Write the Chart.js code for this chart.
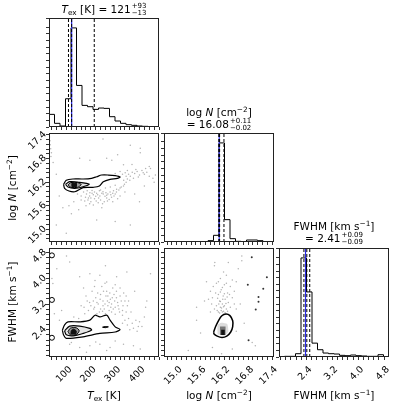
<!DOCTYPE html>
<html lang="en">
  <head>
    <meta charset="utf-8" />
    <title>Corner plot</title>
    <style>
      body { margin: 0; background: #fff; width: 399px; height: 407px; position: relative; overflow: hidden;
             font-family: "DejaVu Sans", sans-serif; color: #000; }
      canvas { position: absolute; left: 0; top: 0; }
      .lbl { position: absolute; font-size: 10.5px; white-space: nowrap; line-height: 1;
             transform: translate(-50%, -50%); }
      .rot { transform: translate(-50%, -50%) rotate(-90deg); }
      sub, sup { font-size: 0.7em; line-height: 0; }
      sup { vertical-align: 0.5em; }
      sub { vertical-align: -0.3em; }
      .ss { display: inline-flex; flex-direction: column; font-size: 7px; line-height: 7px;
            vertical-align: middle; margin-left: 1px; }
    </style>
  </head>
  <body>
    <canvas id="hTex" width="399" height="407"></canvas>
    <canvas id="sTexN" width="399" height="407"></canvas>
    <canvas id="hN" width="399" height="407"></canvas>
    <canvas id="sTexF" width="399" height="407"></canvas>
    <canvas id="sNF" width="399" height="407"></canvas>
    <canvas id="hF" width="399" height="407"></canvas>

    <!-- titles and axis labels -->
    <div class="lbl" style="left:104px;top:10px"><i>T</i><sub>ex</sub> [K] = 121<span class="ss"><span>+93</span><span>−13</span></span></div>
    <div class="lbl" style="left:219px;top:112px">log <i>N</i> [cm<sup>−2</sup>]</div>
    <div class="lbl" style="left:219px;top:125px">= 16.08<span class="ss"><span>+0.11</span><span>−0.02</span></span></div>
    <div class="lbl" style="left:334px;top:226px">FWHM [km s<sup>−1</sup>]</div>
    <div class="lbl" style="left:334px;top:239px">= 2.41<span class="ss"><span>+0.09</span><span>−0.09</span></span></div>

    <div class="lbl" style="left:104px;top:395px"><i>T</i><sub>ex</sub> [K]</div>
    <div class="lbl" style="left:219px;top:395px">log <i>N</i> [cm<sup>−2</sup>]</div>
    <div class="lbl" style="left:334px;top:395px">FWHM [km s<sup>−1</sup>]</div>
    <div class="lbl rot" style="left:12px;top:188px">log <i>N</i> [cm<sup>−2</sup>]</div>
    <div class="lbl rot" style="left:12px;top:302px">FWHM [km s<sup>−1</sup>]</div>

    <script src="https://cdn.jsdelivr.net/npm/chart.js@4.4.0/dist/chart.umd.min.js"></script>
    <script>
      // parameter ranges (axis limits, also the histogram range)
      const TEX_RANGE = [28, 480];
      const LOGN_RANGE = [14.68, 17.45];
      const FWHM_RANGE = [1.55, 4.95];

      // labelled ticks and the minor tick spacing
      const TEX_TICKS = [100, 200, 300, 400];
      const LOGN_TICKS = [15.0, 15.6, 16.2, 16.8, 17.4];
      const FWHM_TICKS = [2.4, 3.2, 4.0, 4.8];
      const MINOR_STEP = { tex: 20, logn: 0.12, fwhm: 0.16 };

      // 20-bin histograms
      const TEX_HIST = [38, 11, 3, 85, 298, 125, 65, 61, 53, 57, 56, 31, 18, 11, 7, 5, 3, 2, 1, 1];
      const LOGN_HIST = [0, 0, 0, 0, 0, 0, 0, 1, 4, 20, 297, 67, 10, 2, 1, 6, 6, 4, 1, 0];
      const FWHM_HIST = [0, 2, 2, 10, 300, 197, 42, 22, 12, 10, 9, 5, 4, 6, 4, 3, 2, 2, 7, 1];

      // 16/50/84 % quantiles and truth values
      const TEX_QUANT = [108, 121, 214];
      const LOGN_QUANT = [16.06, 16.08, 16.19];
      const FWHM_QUANT = [2.32, 2.41, 2.5];
      const TRUTHS = [121, 16.07, 2.37];

      // samples outside the contours: Tex vs logN
      const TN_PTS = [
        [30,17.35],[32,17.25],[33,17.15],[35,17.05],[38,16.95],[36,16.85],[45,16.7],[58,16.4],
        [154,16.81],[196,16.76],[265,16.81],[286,16.76],[362,17.14],[403,17.06],[403,16.95],[250,17.3],[310,16.9],[440,16.6],
        [334,16.64],[369,16.65],[445,16.55],[320,16.47],[341,16.44],[390,16.47],[420,16.4],[465,16.38],[362,16.35],
        [380,16.42],[400,16.38],[350,16.5],[430,16.45],[375,16.3],[300,16.42],[455,16.3],[335,16.25],[355,16.4],[410,16.5],
        [385,16.52],[395,16.33],[415,16.44],[440,16.35],[425,16.55],[345,16.35],[330,16.4],[370,16.45],
        [170,15.95],[182,15.9],[196,15.93],[210,15.88],[224,15.92],[237,15.85],[251,15.9],[265,15.87],[279,15.95],
        [293,15.98],[306,16.02],[320,16.05],[334,16.1],[190,15.8],[215,15.78],[240,15.75],[265,15.8],[285,15.82],
        [200,15.7],[230,15.68],[255,15.7],[175,15.72],[160,15.85],[210,15.62],[180,15.6],[300,15.9],[310,15.78],
        [145,15.9],[130,15.7],[245,15.55],[150,15.5],[220,15.84],[250,15.96],[275,15.76],[205,15.99],
        [185,15.98],[195,15.85],[205,15.92],[215,15.95],[228,15.88],[232,15.8],[245,15.92],[258,15.84],[262,15.93],
        [270,15.9],[282,15.88],[290,15.92],[295,15.85],[305,15.95],[315,16.0],[325,16.08],[338,16.15],[345,16.2],
        [350,16.28],[360,16.25],[178,15.82],[188,15.75],[222,15.72],[248,15.65],[268,15.72],[290,15.7],[320,15.85],
        [235,15.98],[200,15.8],[160,15.75],[240,16.0],[260,16.05],[280,16.08],[300,16.12],[195,15.65],[340,15.95],
        [224,15.24],[58,15.11],[362,15.11],[99,14.9],[120,15.4],[85,15.55],[300,15.2],[400,15.7],[380,15.9],
        [420,16.1],[460,16.2],[70,15.85],[110,15.6]
      ];
      // Tex vs FWHM
      const TF_PTS = [
        [113,4.51],[154,4.05],[196,4.15],[217,3.94],[237,4.1],[265,3.89],[306,4.05],[348,4.2],[445,4.15],[44,3.84],
        [100,4.7],[260,4.4],[380,3.6],[170,3.7],
        [205,3.6],[220,3.4],[230,3.2],[240,3.5],[250,3.3],[255,3.05],[265,3.6],[270,3.15],[280,3.35],[285,2.95],
        [295,3.5],[300,3.1],[310,3.25],[320,3.45],[330,3.0],[340,3.3],[260,2.9],[235,2.95],[215,3.1],[195,3.25],
        [180,3.45],[245,3.75],[290,3.7],[320,3.7],[350,3.15],[365,2.95],[225,2.9],[275,3.0],[300,2.88],[190,3.0],
        [210,3.3],[250,3.15],[285,3.2],[315,3.05],[240,3.05],[270,3.45],[335,3.55],[175,2.9],[160,3.15],
        [200,3.15],[212,3.05],[225,3.25],[238,3.35],[248,2.98],[258,3.2],[262,3.45],[268,3.3],[275,3.25],[282,3.1],
        [288,3.4],[292,3.05],[298,3.3],[305,3.4],[312,3.15],[318,2.95],[325,3.3],[332,3.15],[345,3.45],[355,3.3],
        [228,3.55],[252,3.6],[278,3.55],[305,3.6],[215,3.75],[258,3.85],[300,3.8],[185,3.3],[172,3.1],[330,2.85],
        [345,2.95],[355,2.75],[370,2.6],[385,2.7],[395,2.5],[330,2.6],
        [350,2.55],[375,2.45],[390,2.35],[410,2.5],[420,2.8],[425,3.1],[430,3.3],[400,2.65],[340,2.7],[360,2.4],
        [113,1.95],[154,1.85],[196,1.9],[237,1.95],[279,1.85],[334,1.95],[375,1.9],[403,1.8],[182,1.7],[265,1.75],
        [120,2.0],[300,2.05],[220,2.02],
        [71,2.7],[50,2.9],[40,4.0],[60,4.3],[80,3.0],[130,2.8],[150,2.75]
      ];
      // logN vs FWHM
      const NF_PTS = [
        [16.05,2.95],[16.12,3.0],[16.18,2.98],[16.25,3.05],[16.1,3.1],[16.15,3.2],[16.2,3.15],[16.08,3.3],[16.22,3.35],
        [16.3,3.25],[16.0,3.15],[15.95,3.05],[16.35,3.1],[16.17,3.45],[16.05,3.5],[16.28,3.55],[16.12,3.65],[16.4,3.4],
        [15.9,3.4],[16.2,3.8],[16.0,3.85],[16.35,3.75],[15.85,3.6],[16.45,3.6],[16.1,4.0],[16.25,4.1],[15.75,3.9],
        [16.5,3.9],[16.3,4.5],[15.95,4.4],[16.55,4.3],[15.7,3.3],[16.6,3.2],
        [16.08,2.92],[16.15,2.95],[16.22,2.93],[16.02,3.0],[16.28,2.98],[16.13,3.08],[16.18,3.12],[16.06,3.2],
        [16.24,3.22],[16.1,3.28],[16.16,3.35],[16.03,3.38],[16.27,3.42],[16.2,3.52],[16.1,3.58],[16.33,3.5],
        [15.98,3.55],[16.15,3.72],[16.25,3.85],[16.05,3.9],[16.4,3.95],[15.92,3.75],[16.18,4.2],[16.45,3.2],
        [15.88,3.2],[16.5,3.05],[15.85,2.95],
        [15.29,1.75],[15.5,3.1],[15.8,3.35],[15.96,4.5],[16.64,4.7],[16.9,2.0],[15.9,1.85],[16.13,1.65],[16.4,1.8],
        [16.98,1.9],[15.6,2.3],[16.5,2.35],[16.7,2.6],[15.5,2.7],[16.64,4.55]
      ];
      const NF_DARK = [[16.89,4.66],[17.27,4.04],[17.18,3.68],[17.06,3.42],[17.06,3.27],[16.99,3.03],[16.79,3.8],[16.81,2.07]];

      // contour outlines (data units)
      const TN_OUTER = [[88,16.146],[99,16.248],[127,16.281],[168,16.281],[203,16.299],[224,16.339],[244,16.382],[272,16.382],
        [300,16.365],[320,16.332],[309,16.299],[279,16.273],[251,16.212],[235,16.103],[210,16.07],[168,16.06],[134,15.958],
        [110,15.976],[92,16.044],[88,16.146]];
      const TN_MID = [[96,16.146],[113,16.212],[154,16.197],[182,16.172],[193,16.146],[168,16.085],[134,16.044],[106,16.077],[96,16.146]];
      const TN_INNER = [[106,16.13],[118,16.19],[145,16.19],[160,16.14],[145,16.07],[118,16.07],[106,16.13]];
      const TN_CORE = [[122,16.09],[122,16.17],[140,16.17],[140,16.09],[122,16.09]];

      const TF_OUTER = [[83,2.39],[92,2.55],[106,2.646],[154,2.646],[196,2.699],[217,2.854],[237,2.801],[265,2.854],[279,2.699],
        [300,2.491],[320,2.41],[300,2.33],[237,2.286],[168,2.18],[99,2.131],[88,2.233],[83,2.39]];
      const TF_MID = [[92,2.367],[113,2.513],[154,2.513],[196,2.441],[203,2.388],[168,2.286],[127,2.211],[99,2.242],[92,2.367]];
      const TF_INNER = [[106,2.34],[116,2.45],[140,2.46],[152,2.37],[140,2.25],[116,2.24],[106,2.34]];
      const TF_CORE = [[118,2.27],[120,2.38],[130,2.42],[140,2.36],[138,2.27],[118,2.27]];
      const TF_ISLAND = [[248,2.48],[260,2.5],[272,2.49],[260,2.465],[248,2.48]];
      const TF_EDGE = [[40,4.72],[40,3.33],[40,2.15]];

      const NF_OUTER = [[15.93,2.33],[15.98,2.5],[16.05,2.68],[16.13,2.83],[16.24,2.89],[16.34,2.84],[16.41,2.68],[16.41,2.5],
        [16.36,2.33],[16.26,2.2],[16.14,2.16],[16.02,2.2],[15.94,2.27],[15.93,2.33]];
      const NF_LIGHT = [[16.03,2.25],[16.03,2.55],[16.12,2.62],[16.27,2.58],[16.3,2.35],[16.22,2.22],[16.03,2.25]];
      const NF_MID = [[16.09,2.24],[16.09,2.5],[16.23,2.5],[16.23,2.24],[16.09,2.24]];
      const NF_CORE = [[16.12,2.24],[16.12,2.4],[16.21,2.4],[16.21,2.24],[16.12,2.24]];

      // panel grid
      const COL_LEFT = [49, 164, 279];
      const ROW_TOP = [18, 133, 248];
      const PANEL_W = 110;
      const PANEL_H = 109;
      const Y_BOX = [44, 10, 10];   // room for y tick labels, by column
      const X_BOX = [10, 10, 40];   // room for x tick labels, by row

      const pts = (a) => a.map((p) => ({ x: p[0], y: p[1] }));

      // every multiple of step inside the range
      function minorTicks(range, step) {
        const out = [];
        const k0 = Math.ceil(range[0] / step - 1e-9);
        const k1 = Math.floor(range[1] / step + 1e-9);
        for (let k = k0; k <= k1; k++) out.push({ value: Math.round(k * step * 1000) / 1000 });
        return out;
      }

      const framePlugin = {
        id: "frame",
        afterDatasetsDraw(chart) {
          const { ctx, chartArea: a } = chart;
          ctx.save();
          ctx.strokeStyle = "#222";
          ctx.lineWidth = 1;
          ctx.strokeRect(a.left + 0.5, a.top + 0.5, a.width - 1, a.height - 1);
          ctx.restore();
        },
      };

      const tickGrid = { drawOnChartArea: false, drawTicks: true, tickLength: 3, color: "#333", lineWidth: 1 };

      function valueAxis(range, step, labels, digits, showLabels, isX, box) {
        return {
          type: "linear",
          min: range[0],
          max: range[1],
          border: { display: false },
          grid: tickGrid,
          afterBuildTicks: (s) => { s.ticks = minorTicks(range, step); },
          ticks: {
            autoSkip: false,
            minRotation: 45,
            maxRotation: 45,
            padding: isX ? 4 : 1,
            labelOffset: isX ? 4 : -2,
            color: "#000",
            font: { family: "DejaVu Sans", size: 9.5 },
            callback: (v) =>
              showLabels && labels.some((t) => Math.abs(t - v) < 1e-6) ? v.toFixed(digits) : "",
          },
          afterFit: (s) => {
            if (isX) s.height = box;
            else s.width = box;
          },
        };
      }

      function countAxis(counts, box) {
        return {
          type: "linear",
          min: 0,
          max: 1.1 * Math.max(...counts),
          border: { display: false },
          grid: tickGrid,
          ticks: { stepSize: 20, autoSkip: false, padding: 0, callback: () => "" },
          afterFit: (s) => { s.width = box; },
        };
      }

      function histDatasets(counts, range, quants, truth) {
        const ymax = 1.1 * Math.max(...counts);
        const w = (range[1] - range[0]) / counts.length;
        const steps = [{ x: range[0], y: 0 }];
        counts.forEach((c, i) => steps.push({ x: range[0] + i * w, y: c }));
        steps.push({ x: range[1], y: 0 });
        const vline = (v) => [{ x: v, y: 0 }, { x: v, y: ymax }];
        return [
          ...quants.map((q) => ({
            data: vline(q), showLine: true, borderColor: "#000", borderWidth: 1,
            borderDash: [3, 2], pointRadius: 0, order: 1,
          })),
          { data: vline(truth), showLine: true, borderColor: "#2a2ae6", borderWidth: 1.2, pointRadius: 0, order: 2 },
          { data: steps, showLine: true, stepped: "before", borderColor: "#000", borderWidth: 1, pointRadius: 0, order: 3 },
        ];
      }

      function shape(arr, fillColor, lineColor, width, order, tension) {
        return {
          data: pts(arr), showLine: true, fill: "shape", backgroundColor: fillColor,
          borderColor: lineColor, borderWidth: width, pointRadius: 0, tension: tension, order: order,
        };
      }

      function scatter(arr, color, r, order) {
        return {
          data: pts(arr), showLine: false, pointRadius: r, pointBackgroundColor: color,
          pointBorderWidth: 0, order: order,
        };
      }

      function makePanel(id, col, row, xAxis, yAxis, datasets) {
        const left = COL_LEFT[col];
        const top = ROW_TOP[row];
        new Chart(document.getElementById(id), {
          type: "line",
          data: { datasets: datasets },
          options: {
            responsive: false,
            animation: false,
            devicePixelRatio: 1,
            events: [],
            layout: {
              padding: {
                left: left - Y_BOX[col],
                top: top,
                right: 399 - left - PANEL_W,
                bottom: 407 - top - PANEL_H - X_BOX[row],
              },
            },
            plugins: { legend: { display: false }, tooltip: { enabled: false } },
            scales: { x: xAxis, y: yAxis },
          },
          plugins: [framePlugin],
        });
      }

      // diagonal: histograms
      makePanel("hTex", 0, 0,
        valueAxis(TEX_RANGE, MINOR_STEP.tex, TEX_TICKS, 0, false, true, X_BOX[0]), countAxis(TEX_HIST, Y_BOX[0]),
        histDatasets(TEX_HIST, TEX_RANGE, TEX_QUANT, TRUTHS[0]));
      makePanel("hN", 1, 1,
        valueAxis(LOGN_RANGE, MINOR_STEP.logn, LOGN_TICKS, 1, false, true, X_BOX[1]), countAxis(LOGN_HIST, Y_BOX[1]),
        histDatasets(LOGN_HIST, LOGN_RANGE, LOGN_QUANT, TRUTHS[1]));
      makePanel("hF", 2, 2,
        valueAxis(FWHM_RANGE, MINOR_STEP.fwhm, FWHM_TICKS, 1, true, true, X_BOX[2]), countAxis(FWHM_HIST, Y_BOX[2]),
        histDatasets(FWHM_HIST, FWHM_RANGE, FWHM_QUANT, TRUTHS[2]));

      // Tex vs logN
      makePanel("sTexN", 0, 1,
        valueAxis(TEX_RANGE, MINOR_STEP.tex, TEX_TICKS, 0, false, true, X_BOX[1]),
        valueAxis(LOGN_RANGE, MINOR_STEP.logn, LOGN_TICKS, 1, true, false, Y_BOX[0]),
        [
          shape(TN_CORE, "#111", "#111", 1, 1, 0),
          shape(TN_INNER, "#9a9a9a", "#000", 1, 2, 0.3),
          shape(TN_MID, "#e4e4e4", "#000", 1.2, 3, 0.3),
          shape(TN_OUTER, "#fff", "#000", 1.2, 4, 0.3),
          scatter(TN_PTS, "rgba(0,0,0,0.3)", 0.75, 10),
        ]);

      // Tex vs FWHM
      makePanel("sTexF", 0, 2,
        valueAxis(TEX_RANGE, MINOR_STEP.tex, TEX_TICKS, 0, true, true, X_BOX[2]),
        valueAxis(FWHM_RANGE, MINOR_STEP.fwhm, FWHM_TICKS, 1, true, false, Y_BOX[0]),
        [
          shape(TF_CORE, "#111", "#111", 1, 1, 0.2),
          shape(TF_ISLAND, "#222", "#000", 1, 1, 0.3),
          shape(TF_INNER, "#9a9a9a", "#000", 1, 2, 0.3),
          shape(TF_MID, "#e4e4e4", "#000", 1.2, 3, 0.3),
          shape(TF_OUTER, "#fff", "#000", 1.2, 4, 0.3),
          {
            data: pts(TF_EDGE), showLine: false, pointRadius: 2.5, pointBackgroundColor: "rgba(0,0,0,0)",
            pointBorderColor: "#000", pointBorderWidth: 1, order: 5,
          },
          scatter(TF_PTS, "rgba(0,0,0,0.3)", 0.75, 10),
        ]);

      // logN vs FWHM
      makePanel("sNF", 1, 2,
        valueAxis(LOGN_RANGE, MINOR_STEP.logn, LOGN_TICKS, 1, true, true, X_BOX[2]),
        valueAxis(FWHM_RANGE, MINOR_STEP.fwhm, FWHM_TICKS, 1, false, false, Y_BOX[1]),
        [
          shape(NF_CORE, "#111", "#111", 0, 1, 0),
          shape(NF_MID, "#777", "#777", 0, 2, 0),
          shape(NF_LIGHT, "#dcdcdc", "#dcdcdc", 0, 3, 0.2),
          shape(NF_OUTER, "#fff", "#000", 1.5, 4, 0.3),
          scatter(NF_DARK, "rgba(0,0,0,0.8)", 1, 9),
          scatter(NF_PTS, "rgba(0,0,0,0.3)", 0.75, 10),
        ]);
    </script>
  </body>
</html>
